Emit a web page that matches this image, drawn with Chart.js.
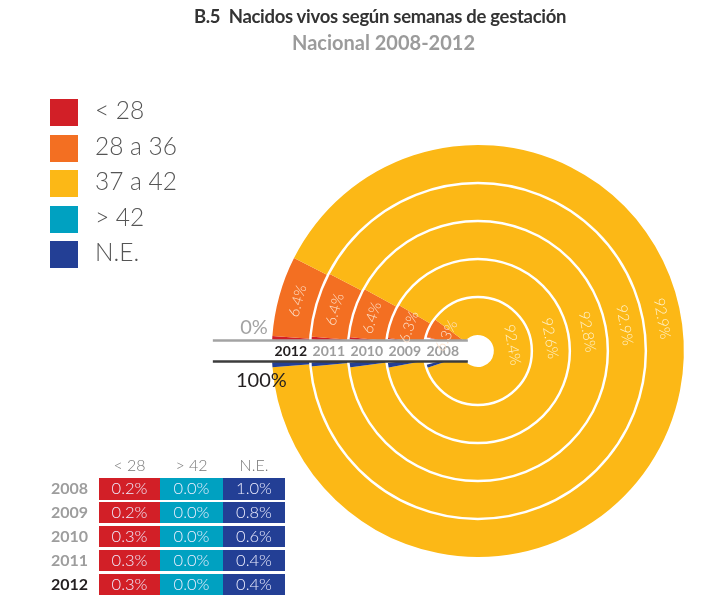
<!DOCTYPE html>
<html>
<head>
<meta charset="utf-8">
<script src="https://cdn.jsdelivr.net/npm/chart.js@4.4.1/dist/chart.umd.min.js"></script>
<style>
  body { margin: 0; background: #fff; font-family: Lato, "Open Sans", sans-serif; }
  #wrap { position: relative; width: 724px; height: 608px; overflow: hidden; }
  #chart { position: absolute; left: 0; top: 0; }
  .title { position: absolute; left: 0; width: 760px; top: 5px; text-align: center; font-weight: bold; font-size: 18.5px; letter-spacing: -0.3px; color: #333; }
  .subtitle { position: absolute; left: 0; width: 767px; top: 30px; text-align: center; font-weight: bold; font-size: 20px; color: #9b9b9b; }
  .legend { position: absolute; left: 50px; top: 99px; }
  .legend div { position: relative; height: 35.5px; }
  .legend span.box { position: absolute; left: 0; top: 0; width: 28px; height: 27px; }
  .legend span.txt { position: absolute; left: 45px; top: -4px; font-size: 24.5px; font-weight: 300; color: #555; white-space: nowrap; }
  .tbl { position: absolute; left: 0; top: 0; }
  .tbl div { position: absolute; text-align: center; white-space: nowrap; }
</style>
</head>
<body>
<div id="wrap">
  <canvas id="chart" width="724" height="608"></canvas>
  <div class="title">B.5&nbsp; Nacidos vivos según semanas de gestación</div>
  <div class="subtitle">Nacional 2008-2012</div>
  <div class="legend" id="legend"></div>
  <div class="tbl" id="tbl"></div>
</div>
<script>
// rings from outside to inside
const years = ["2012", "2011", "2010", "2009", "2008"];
const categories = ["< 28", "28 a 36", "37 a 42", "> 42", "N.E."];
const menos28 = [0.3, 0.3, 0.3, 0.2, 0.2];
const de28a36 = [6.4, 6.4, 6.4, 6.3, 6.3];
const de37a42 = [92.9, 92.9, 92.8, 92.6, 92.4];
const mas42 = [0.0, 0.0, 0.0, 0.0, 0.0];
const noEsp = [0.4, 0.4, 0.6, 0.8, 1.0];

const colors = ["#d21f27", "#f36f22", "#fcb816", "#00a1c1", "#233f95"];

// geometry of the doughnut (must agree with layout padding below)
const outerR = 206;
const holeR = 16;
const bandHalf = 10.5;
const ringW = (outerR - holeR) / years.length;
// each ring leaves out the white strip on the left where the years sit
const gapDeg = years.map((y, i) => {
  const r = outerR - (i + 1) * ringW + ringW * 0.65;
  return Math.asin(bandHalf / r) * 180 / Math.PI;
});

// legend
const legend = document.getElementById("legend");
categories.forEach((c, i) => {
  const d = document.createElement("div");
  d.innerHTML = '<span class="box" style="background:' + colors[i] + '"></span><span class="txt">' + c + '</span>';
  legend.appendChild(d);
});

// small table under the legend (2008 first)
const tbl = document.getElementById("tbl");
const cols = [
  { head: "< 28", vals: menos28, color: colors[0], x: 99, w: 61 },
  { head: "> 42", vals: mas42, color: colors[3], x: 160, w: 63 },
  { head: "N.E.", vals: noEsp, color: colors[4], x: 223, w: 62 }
];
let html = "";
cols.forEach(c => {
  html += '<div style="left:' + c.x + 'px;top:455px;width:' + c.w + 'px;font-size:16px;font-weight:300;color:#777">' + c.head + '</div>';
});
years.slice().reverse().forEach((y, r) => {
  const i = years.length - 1 - r;
  const top = 478 + r * 23.9;
  const yc = y === "2012" ? "#231f20" : "#9d9d9d";
  html += '<div style="left:28px;top:' + top + 'px;width:60px;text-align:right;font-size:16px;font-weight:bold;color:' + yc + '">' + y + '</div>';
  cols.forEach(c => {
    html += '<div style="left:' + c.x + 'px;top:' + top + 'px;width:' + c.w + 'px;height:21.5px;line-height:21.5px;background:' +
      c.color + ';color:#eef;font-size:16.5px;font-weight:300">' + c.vals[i].toFixed(1) + '%</div>';
  });
});
tbl.innerHTML = html;

const ringDecor = {
  id: "ringDecor",
  afterDatasetsDraw(chart) {
    const ctx = chart.ctx;
    const metas = chart.getSortedVisibleDatasetMetas();
    const cx = metas[0].data[0].x;
    const cy = metas[0].data[0].y;
    const rOut = metas[0].data[0].outerRadius;
    ctx.save();

    // white lines between the rings
    ctx.strokeStyle = "#fff";
    ctx.lineWidth = 2.5;
    metas.forEach((m, i) => {
      if (i === 0) return;
      ctx.beginPath();
      ctx.arc(cx, cy, m.data[0].outerRadius, 0, Math.PI * 2);
      ctx.stroke();
    });

    // white band with the years
    const left = cx - rOut - 59;
    const right = cx - 10;
    ctx.fillStyle = "#fff";
    ctx.fillRect(left, cy - bandHalf, right - left, bandHalf * 2);
    ctx.lineWidth = 2.5;
    ctx.strokeStyle = "#a3a3a3";
    ctx.beginPath(); ctx.moveTo(left, cy - bandHalf); ctx.lineTo(right, cy - bandHalf); ctx.stroke();
    ctx.strokeStyle = "#3c3c3c";
    ctx.beginPath(); ctx.moveTo(left, cy + bandHalf); ctx.lineTo(right, cy + bandHalf); ctx.stroke();

    ctx.textBaseline = "middle";
    ctx.textAlign = "center";
    ctx.font = "bold 14px Lato, 'Open Sans', sans-serif";
    metas.forEach((m, i) => {
      const a = m.data[0];
      const r = (a.innerRadius + a.outerRadius) / 2;
      ctx.fillStyle = i === 0 ? "#231f20" : "#9d9d9d";
      ctx.fillText(years[i], cx - r, cy + 0.5);
    });

    ctx.font = "20px Lato, 'Open Sans', sans-serif";
    ctx.textBaseline = "alphabetic";
    ctx.textAlign = "right";
    ctx.fillStyle = "#a3a3a3";
    ctx.fillText("0%", cx - rOut - 4, cy - bandHalf - 7);
    ctx.fillStyle = "#231f20";
    ctx.fillText("100%", cx - rOut + 15, cy + bandHalf + 25);

    // percentage labels along the arcs
    ctx.textAlign = "center";
    ctx.textBaseline = "middle";
    ctx.font = "300 15px Lato, 'Open Sans', sans-serif";
    metas.forEach((m, i) => {
      [1, 2].forEach(k => {
        const arc = m.data[k];
        const p = arc.getProps(["startAngle", "endAngle", "innerRadius", "outerRadius"], true);
        const ang = k === 1 ? (p.startAngle + p.endAngle) / 2 : -10 * Math.PI / 180;
        const r = (p.innerRadius + p.outerRadius) / 2;
        const val = chart.data.datasets[i].data[k];
        ctx.save();
        ctx.translate(cx + r * Math.cos(ang), cy + r * Math.sin(ang));
        ctx.rotate(ang + Math.PI / 2);
        ctx.fillStyle = k === 1 ? "#fde2cc" : "#fff3cf";
        ctx.fillText(val.toFixed(1) + "%", 0, 0);
        ctx.restore();
      });
    });
    ctx.restore();
  }
};

new Chart(document.getElementById("chart"), {
  type: "doughnut",
  data: {
    labels: categories,
    datasets: years.map((y, i) => ({
      label: y,
      data: [menos28[i], de28a36[i], de37a42[i], mas42[i], noEsp[i]],
      backgroundColor: colors,
      borderWidth: 0,
      rotation: 270 + gapDeg[i],
      circumference: 360 - 2 * gapDeg[i]
    }))
  },
  options: {
    responsive: false,
    animation: false,
    cutout: (holeR / outerR * 100) + "%",
    layout: { padding: { left: 272, right: 40, top: 145, bottom: 51 } },
    plugins: {
      legend: { display: false },
      tooltip: { enabled: false }
    }
  },
  plugins: [ringDecor]
});
</script>
</body>
</html>
